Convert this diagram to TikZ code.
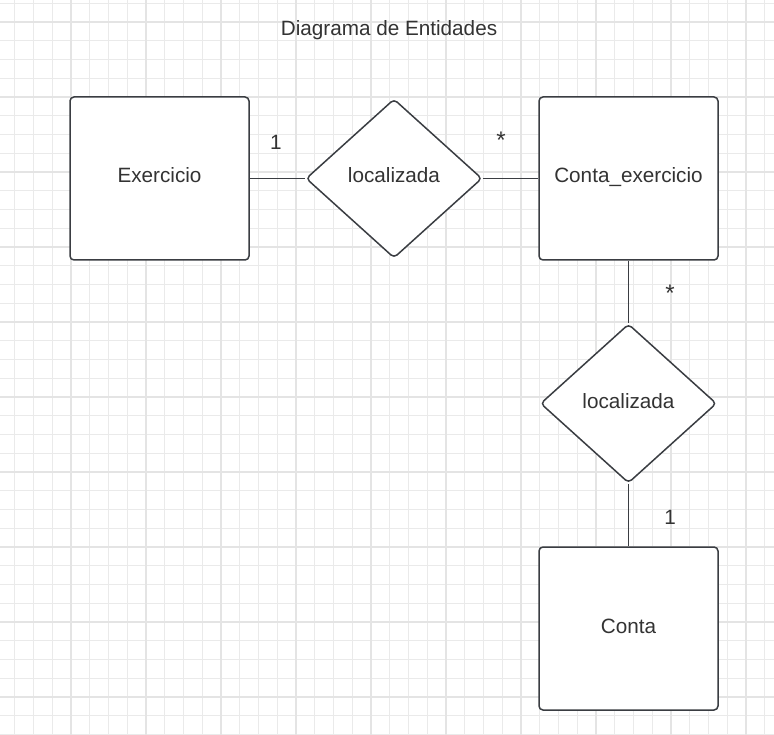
\documentclass[tikz,border=0pt]{standalone}
\usepackage{fontspec}
\setmainfont{Liberation Sans}
\usepackage{tikz}
\usetikzlibrary{shapes.geometric}

\definecolor{gridminor}{HTML}{EAEAEA}
\definecolor{gridmajor}{HTML}{E4E4E4}
\definecolor{shapeline}{HTML}{3A3D42}
\definecolor{textgray}{HTML}{333333}

\tikzset{
  entity/.style={draw=shapeline, line width=1.5pt, fill=white, rounded corners=4pt,
    minimum width=179pt, minimum height=163pt, inner sep=0pt, text=textgray,
    text height=15pt, text depth=6pt, font=\fontsize{20.7}{24}\selectfont},
  relation/.style={diamond, draw=shapeline, line width=1.5pt, fill=white, rounded corners=4pt,
    minimum width=176pt, minimum height=159pt, inner sep=0pt, text=textgray,
    text height=15pt, text depth=6pt, font=\fontsize{20.7}{24}\selectfont},
  link/.style={draw=shapeline, line width=1.3pt},
  mult/.style={text=textgray, font=\fontsize{20.7}{24}\selectfont}
}

\begin{document}
\begin{tikzpicture}[x=1pt, y=-1pt]
        \useasboundingbox (0,0) rectangle (774,735);
        \fill[white] (0,0) rectangle (774,735);

        % grade de fundo
        \foreach \k in {0,...,42} {
          \draw[gridminor, line width=0.7pt] ({-4+\k*18.75},0) -- ({-4+\k*18.75},735);
          \draw[gridminor, line width=0.7pt] (0,{3.25+\k*18.75}) -- (774,{3.25+\k*18.75});
        }
        \foreach \k in {0,...,10} {
          \draw[gridmajor, line width=1.3pt] ({-4+\k*75},0) -- ({-4+\k*75},735);
          \draw[gridmajor, line width=1.3pt] (0,{22+\k*75}) -- (774,{22+\k*75});
        }

        \node[text=textgray, font=\fontsize{20.7}{24}\selectfont] (titulo) at (389,30) {Diagrama de Entidades};

        % entidades e relacionamentos
        \node[entity] (exercicio) at (159.5,178.5) {Exercicio};
        \node[relation] (rel1) at (394,178.5) {localizada};
        \node[entity] (contaexerc) at (628.5,178.5) {Conta\_exercicio};
        \node[relation] (rel2) at (628.5,403.5) {localizada};
        \node[entity] (conta) at (628.5,628.5) {Conta};

        \draw[link] (exercicio.east) -- (rel1.west);
        \draw[link] (rel1.east) -- (contaexerc.west);
        \draw[link] (contaexerc.south) -- (rel2.north);
        \draw[link] (rel2.south) -- (conta.north);

        % cardinalidades
        \node[mult] (m1) at (276,142) {1};
        \node[mult, font=\fontsize{24}{28}\selectfont] (m2) at (501,140) {*};
        \node[mult, font=\fontsize{24}{28}\selectfont] (m3) at (670,293) {*};
        \node[mult] (m4) at (670,517) {1};
\end{tikzpicture}
\end{document}
